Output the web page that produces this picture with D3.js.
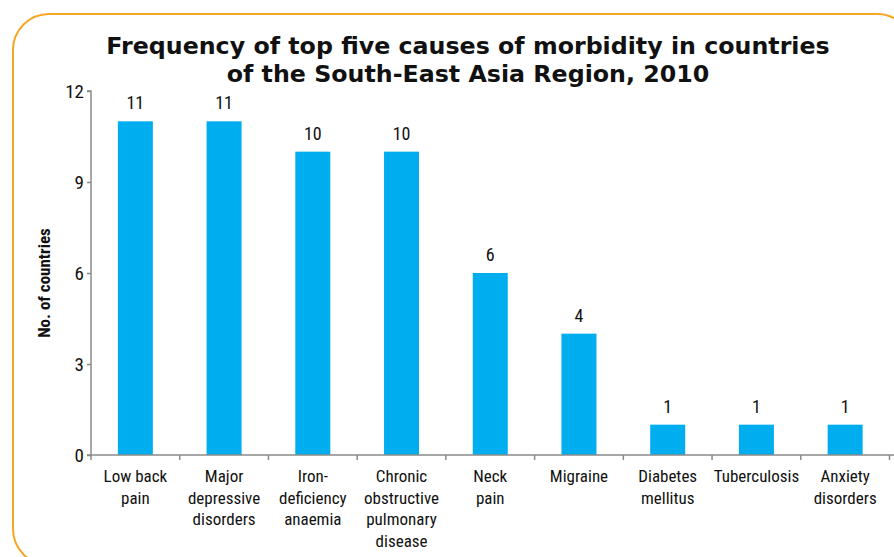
<!DOCTYPE html>
<html><head><meta charset="utf-8">
<script src="https://cdn.jsdelivr.net/npm/d3@7"></script>
<style>
body{margin:0;background:#fff;}
svg{display:block;}
.lbl{font-family:"Liberation Sans Narrow","Roboto Condensed","Liberation Sans",Arial,sans-serif;}
</style>
</head><body>
<svg id="c" width="894" height="557"></svg>
<script>
const categories = [
  ["Low back","pain"],
  ["Major","depressive","disorders"],
  ["Iron-","deficiency","anaemia"],
  ["Chronic","obstructive","pulmonary","disease"],
  ["Neck","pain"],
  ["Migraine"],
  ["Diabetes","mellitus"],
  ["Tuberculosis"],
  ["Anxiety","disorders"]
];
const values = [11, 11, 10, 10, 6, 4, 1, 1, 1];
const yTicks = [0, 3, 6, 9, 12];
const titleLines = ["Frequency of top five causes of morbidity in countries","of the South-East Asia Region, 2010"];
const yLabel = "No. of countries";

const svg = d3.select("#c");
const barColor = "#00AEEF";
const axisColor = "#8a8a8a";

// border
svg.append("rect").attr("x",13).attr("y",14).attr("width",900).attr("height",551)
  .attr("rx",36).attr("ry",36).attr("fill","none").attr("stroke","#F5A623").attr("stroke-width",2);

const x0 = 91, x1 = 889.5, yB = 455, yT = 91;
const idx = d3.range(values.length);
const x = d3.scaleBand().domain(idx).range([x0, x1]).paddingInner(0).paddingOuter(0);
const y = d3.scaleLinear().domain([0,12]).range([yB, yT]);
const bw = 35;

// bars
svg.selectAll("rect.bar").data(idx).join("rect").attr("class","bar")
  .attr("x", i => x(i) + x.bandwidth()/2 - bw/2)
  .attr("width", bw)
  .attr("y", i => y(values[i]))
  .attr("height", i => y(0) - y(values[i]))
  .attr("fill", barColor);

// value labels
svg.selectAll("text.val").data(idx).join("text").attr("class","val lbl")
  .attr("x", i => x(i) + x.bandwidth()/2)
  .attr("y", i => y(values[i]) - 12)
  .attr("text-anchor","middle").attr("font-size",18).attr("fill","#111")
  .text(i => values[i]);

// y axis
const yAxis = d3.axisLeft(y).tickValues(yTicks).tickSize(4).tickPadding(4);
const gy = svg.append("g").attr("transform",`translate(${x0},0)`).call(yAxis);
gy.select(".domain").attr("stroke",axisColor).attr("stroke-width",1.5).attr("d",`M-4,${yT}H0V${yB}`);
gy.selectAll(".tick line").attr("stroke",axisColor).attr("stroke-width",1.5);
gy.selectAll(".tick text").attr("class","lbl").attr("font-size",19).attr("fill","#111").attr("dy","0.35em").attr("x",-7);

// x axis line and boundary ticks
svg.append("line").attr("x1",x0-4).attr("x2",894).attr("y1",yB).attr("y2",yB)
  .attr("stroke",axisColor).attr("stroke-width",1.5);
const bounds = idx.map(i => x(i)).concat([x1]);
svg.selectAll("line.xt").data(bounds).join("line").attr("class","xt")
  .attr("x1",d=>d).attr("x2",d=>d).attr("y1",yB).attr("y2",yB+5)
  .attr("stroke",axisColor).attr("stroke-width",1.5);

// category labels
const cl = svg.selectAll("text.cat").data(idx).join("text").attr("class","cat lbl")
  .attr("text-anchor","middle").attr("font-size",17).attr("fill","#111")
  .attr("transform", i => `translate(${x(i)+x.bandwidth()/2},482)`);
cl.selectAll("tspan").data(i => categories[i]).join("tspan")
  .attr("x",0).attr("dy",(d,j)=> j===0?0:21.5).text(d=>d);

// y label
svg.append("text").attr("class","lbl").attr("transform","translate(50,283) rotate(-90)")
  .attr("text-anchor","middle").attr("font-size",17).attr("font-weight","bold").attr("fill","#111")
  .text(yLabel);

// title
const tt = svg.append("g");
titleLines.forEach((t,k)=>{
  tt.append("text").attr("x",468).attr("y",[54,82][k]).attr("text-anchor","middle")
    .attr("font-family","Verdana,'DejaVu Sans',sans-serif").attr("font-weight","bold").attr("font-size",20).attr("fill","#111").text(t);
});
const first = tt.select("text").node();
const fs = 20 * 724 / first.getComputedTextLength();
tt.selectAll("text").attr("font-size", fs);
</script>
</body></html>
